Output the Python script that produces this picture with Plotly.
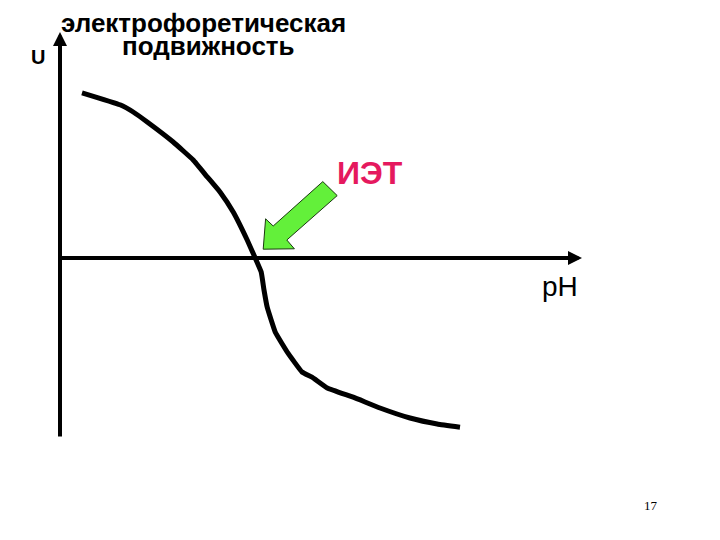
import plotly.graph_objects as go

# Curve (x ~ pH units, y ~ mobility units)
ph = [0.55, 1.5, 1.83, 2.18, 2.83, 3.33, 3.68, 4.0, 4.33, 4.68, 4.88, 5.03,
      5.1, 5.18, 5.38, 5.7, 6.05, 6.3, 6.68, 7.33, 8.0, 8.75, 9.43, 10.0]
mobility = [4.13, 3.83, 3.65, 3.4, 2.9, 2.45, 2.03, 1.65, 1.15, 0.45, 0.0, -0.35,
            -0.8, -1.23, -1.85, -2.38, -2.85, -2.98, -3.25, -3.48, -3.75, -4.0, -4.15, -4.23]

# Green block arrow pointing at the isoelectric point
arrow_x = [5.08, 5.14, 5.33, 6.57, 6.93, 5.67, 5.86, 5.08]
arrow_y = [0.22, 0.98, 0.8, 1.91, 1.56, 0.45, 0.23, 0.22]

title_lines = ["электрофоретическая", "подвижность"]
y_label = "U"
x_label = "pH"
iep_label = "ИЭТ"
page_no = "17"

fig = go.Figure()

fig.add_trace(go.Scatter(x=ph, y=mobility, mode="lines",
                         line=dict(color="black", width=5, shape="spline", smoothing=0.3),
                         hoverinfo="skip"))

fig.add_trace(go.Scatter(x=arrow_x, y=arrow_y, mode="lines", fill="toself",
                         fillcolor="#63F03A", line=dict(color="#1a3a10", width=1),
                         hoverinfo="skip"))

# axes drawn as arrows
fig.add_annotation(x=0, y=5.65, ax=0, ay=-4.5, xref="x", yref="y", axref="x", ayref="y",
                   showarrow=True, arrowhead=2, arrowsize=0.7, arrowwidth=4,
                   arrowcolor="black", text="")
fig.add_annotation(x=13.05, y=0, ax=0, ay=0, xref="x", yref="y", axref="x", ayref="y",
                   showarrow=True, arrowhead=2, arrowsize=0.7, arrowwidth=4,
                   arrowcolor="black", text="")

bold = dict(family="Liberation Sans, Arial", size=26, color="black")
fig.add_annotation(x=3.59, y=5.88, text="<b>" + title_lines[0] + "</b>", showarrow=False, font=bold)
fig.add_annotation(x=3.71, y=5.29, text="<b>" + title_lines[1] + "</b>", showarrow=False, font=bold)
fig.add_annotation(x=-0.55, y=5.03, text="<b>" + y_label + "</b>", showarrow=False,
                   font=dict(family="Liberation Sans, Arial", size=20, color="black"))
fig.add_annotation(x=7.74, y=2.13, text="<b>" + iep_label + "</b>", showarrow=False,
                   font=dict(family="Liberation Sans, Arial", size=32, color="#E5195E"))
fig.add_annotation(x=12.49, y=-0.7, text=x_label, showarrow=False,
                   font=dict(family="Liberation Sans, Arial", size=28, color="black"))
fig.add_annotation(x=14.78, y=-6.18, text=page_no, showarrow=False,
                   font=dict(family="Liberation Serif, Times New Roman", size=13, color="black"))

fig.update_layout(
    width=720, height=540,
    margin=dict(l=0, r=0, t=0, b=0),
    plot_bgcolor="white", paper_bgcolor="white",
    showlegend=False,
    xaxis=dict(range=[-1.3, 16.7], visible=False),
    yaxis=dict(range=[-7.25, 6.25], visible=False),
)

fig.write_html("out.html")
